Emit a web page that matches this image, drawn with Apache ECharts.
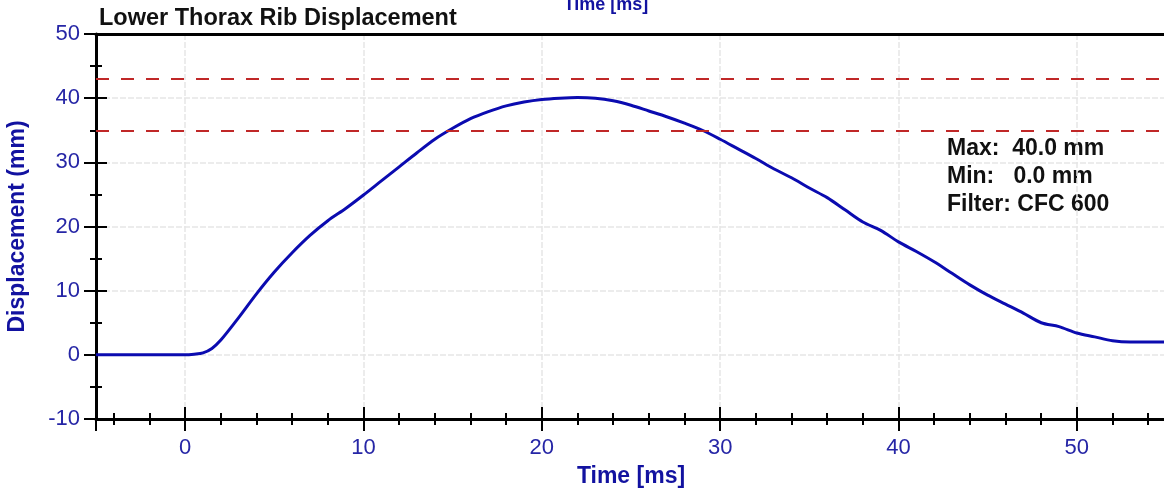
<!DOCTYPE html>
<html>
<head>
<meta charset="utf-8">
<script src="https://cdn.jsdelivr.net/npm/echarts@6/dist/echarts.min.js"></script>
<style>
  html, body { margin: 0; padding: 0; background: #fff; }
  #chart { width: 1164px; height: 493px; }
</style>
</head>
<body>
<div id="chart"></div>
<script>
// rib displacement trace (ms / mm)
var timeMs = [-5, -4, -3, -2, -1, 0, 0.5, 1, 1.5, 2, 3, 4, 5, 6, 7, 8, 9, 10, 11, 12, 13, 14, 15, 16, 17, 18, 19, 20,
    21, 22, 23, 24, 25, 26, 27, 28, 29, 30, 31, 32, 33, 34, 35, 36, 37, 38, 39, 40, 41, 42, 43, 44, 45,
    46, 47, 48, 49, 50, 51, 52, 53, 54, 55];
var displacement = [0, 0, 0, 0, 0, 0, 0.1, 0.3, 1.0, 2.3, 5.8, 9.5, 12.9, 15.9, 18.6, 20.9, 22.8, 24.9,
    27.1, 29.3, 31.5, 33.6, 35.3, 36.8, 37.9, 38.8, 39.4, 39.8, 40.0, 40.1, 40.0, 39.6, 38.9, 38.0,
    37.1, 36.1, 35.0, 33.6, 32.1, 30.6, 29.0, 27.6, 26.0, 24.5, 22.6, 20.7, 19.4, 17.6, 16.1, 14.5,
    12.7, 10.9, 9.3, 7.9, 6.5, 5.0, 4.4, 3.4, 2.8, 2.2, 2.0, 2.0, 2.0];
var limitLines = [43, 35];
var statsText = ['Max:  40.0 mm', 'Min:   0.0 mm', 'Filter: CFC 600'];

var points = timeMs.map(function (t, i) { return [t, displacement[i]]; });

var blue = '#2626a6';
var darkBlue = '#1212a0';

var myChart = echarts.init(document.getElementById('chart'));

var option = {
    animation: false,
    title: {
        text: 'Lower Thorax Rib Displacement',
        left: 94,
        top: 2,
        textStyle: { fontFamily: 'Liberation Sans', fontWeight: 'bold', fontSize: 23.5, color: '#111' }
    },
    grid: { left: 96, right: -2, top: 34, bottom: 74, outerBoundsMode: 'none', containLabel: false },
    xAxis: [
        {
            type: 'value', min: -5, max: 55, splitNumber: 6, position: 'bottom',
            name: 'Time [ms]', nameLocation: 'middle', nameGap: 46,
            nameTextStyle: { fontFamily: 'Liberation Sans', fontWeight: 'bold', fontSize: 23, color: darkBlue },
            axisLine: { onZero: false, lineStyle: { color: '#000', width: 3 } },
            axisTick: { length: 12, lineStyle: { color: '#000', width: 2 } },
            minorTick: { show: true, splitNumber: 5, length: 6, lineStyle: { color: '#000', width: 2 } },
            axisLabel: {
                margin: 18, fontFamily: 'Liberation Sans', fontSize: 22, color: blue,
                formatter: function (v) { return v % 10 === 0 ? String(v) : ''; }
            },
            splitLine: { show: true, lineStyle: { color: '#e6e6e6', width: 1.5, type: [6, 2] } }
        },
        {
            type: 'value', min: -5, max: 55, splitNumber: 6, position: 'bottom',
            axisLine: { show: false, onZero: false },
            axisTick: { inside: true, length: 12, lineStyle: { color: '#000', width: 2 } },
            minorTick: { show: true, splitNumber: 5, length: 6, lineStyle: { color: '#000', width: 2 } },
            axisLabel: { show: false },
            splitLine: { show: false }
        },
        {
            type: 'value', min: -5, max: 55, position: 'top',
            axisLine: { onZero: false, lineStyle: { color: '#000', width: 3 } },
            axisTick: { show: false },
            axisLabel: { show: false },
            splitLine: { show: false }
        }
    ],
    yAxis: [
        {
            type: 'value', min: -10, max: 50, interval: 10, position: 'left',
            name: 'Displacement (mm)', nameLocation: 'middle', nameGap: 67,
            nameTextStyle: { fontFamily: 'Liberation Sans', fontWeight: 'bold', fontSize: 23, color: darkBlue },
            axisLine: { onZero: false, lineStyle: { color: '#000', width: 3 } },
            axisTick: { length: 12, lineStyle: { color: '#000', width: 2 } },
            minorTick: { show: true, splitNumber: 2, length: 6, lineStyle: { color: '#000', width: 2 } },
            axisLabel: { margin: 16, fontFamily: 'Liberation Sans', fontSize: 22, color: blue },
            splitLine: { show: true, lineStyle: { color: '#e6e6e6', width: 1.5, type: [6, 2] } }
        },
        {
            type: 'value', min: -10, max: 50, interval: 10, position: 'left',
            axisLine: { show: false, onZero: false },
            axisTick: { inside: true, length: 11, lineStyle: { color: '#000', width: 2 } },
            minorTick: { show: true, splitNumber: 2, length: 6, lineStyle: { color: '#000', width: 2 } },
            axisLabel: { show: false },
            splitLine: { show: false }
        }
    ],
    series: [{
        name: 'Displacement',
        type: 'line',
        data: points,
        showSymbol: false,
        smooth: 0.3,
        lineStyle: { color: '#0b0bb0', width: 3 },
        markLine: {
            silent: true,
            symbol: 'none',
            label: { show: false },
            lineStyle: { color: '#c02828', width: 2, type: [13, 12] },
            data: limitLines.map(function (v) { return { yAxis: v }; })
        },
        z: 3
    }],
    graphic: [
        {
            type: 'text', left: 947, top: 135,
            style: {
                text: statsText.join('\n'),
                font: 'bold 23px "Liberation Sans"',
                fill: '#111',
                lineHeight: 28
            }
        },
        {
            // clipped axis title of the chart above
            type: 'text', x: 606, y: 14,
            style: {
                text: 'Time [ms]',
                font: 'bold 18px "Liberation Sans"',
                fill: darkBlue,
                textAlign: 'center',
                textVerticalAlign: 'bottom'
            }
        }
    ]
};

myChart.setOption(option);
</script>
</body>
</html>
